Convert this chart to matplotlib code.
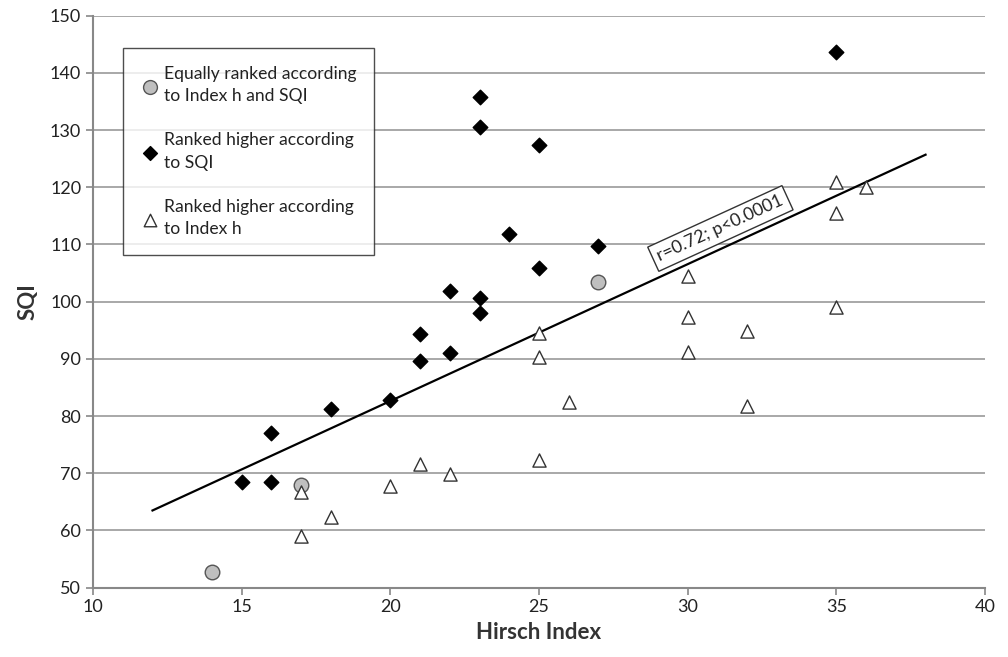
import matplotlib
matplotlib.use("Agg")
import matplotlib.pyplot as plt
import numpy as np

plt.rcParams['font.family'] = ['Lato', 'DejaVu Sans']

# Equally ranked
eq_x = [14, 17, 27]
eq_y = [52.7, 68.0, 103.4]

# Ranked higher according to SQI
sqi_x = [15, 16, 16, 18, 20, 21, 21, 22, 22, 23, 23, 23, 23, 24, 25, 25, 27, 35]
sqi_y = [68.5, 68.5, 77.0, 81.2, 82.9, 89.6, 94.4, 91.1, 101.9, 100.6, 98.1, 135.8, 130.6, 111.8, 127.4, 105.9, 109.8, 143.7]

# Ranked higher according to Index h
h_x = [17, 17, 18, 20, 21, 22, 25, 26, 25, 25, 30, 30, 30, 32, 32, 35, 35, 35, 36]
h_y = [66.7, 59.1, 62.3, 67.8, 71.7, 69.9, 72.3, 82.5, 90.3, 94.5, 91.2, 97.3, 104.5, 81.8, 94.8, 99.1, 121.0, 115.5, 120.0]

# Trend line endpoints
trend_x = [12, 38]
trend_y = [63.5, 125.7]

labels = ["Equally ranked according\nto Index h and SQI",
          "Ranked higher according\nto SQI",
          "Ranked higher according\nto Index h"]
annot = "r=0.72; p<0.0001"

fig = plt.figure(figsize=(10.08, 6.57), dpi=100)
ax = fig.add_axes([0.0923, 0.1055, 0.8849, 0.8706])

ax.set_xlim(10, 40)
ax.set_ylim(50, 150)
ax.set_xticks(np.arange(10, 41, 5))
ax.set_yticks(np.arange(50, 151, 10))
ax.grid(axis='y', color='#999999', linewidth=1.2)
ax.set_axisbelow(True)
for s in ['top', 'right']:
    ax.spines[s].set_visible(False)
for s in ['left', 'bottom']:
    ax.spines[s].set_color('#888888')
    ax.spines[s].set_linewidth(1.5)
ax.tick_params(axis='both', colors='#888888', labelcolor='#222222', labelsize=13, length=5, width=1.2)

ax.plot(trend_x, trend_y, color='black', linewidth=1.6, zorder=2)

h1 = ax.scatter(eq_x, eq_y, marker='o', s=110, facecolor='#bfbfbf', edgecolor='#555555', linewidth=1.0, zorder=3)
h2 = ax.scatter(sqi_x, sqi_y, marker='D', s=55, facecolor='black', edgecolor='black', zorder=3)
h3 = ax.scatter(h_x, h_y, marker='^', s=90, facecolor='white', edgecolor='#333333', linewidth=1.0, zorder=3)

ax.set_xlabel("Hirsch Index", fontsize=16, fontweight='bold', color='#333333', labelpad=5)
ax.set_ylabel("SQI", fontsize=16, fontweight='bold', color='#333333', labelpad=8)

ax.text(31.1, 112.8, annot, rotation=24.6, rotation_mode='anchor', ha='center', va='center',
        fontsize=12.8, color='#222222',
        bbox=dict(boxstyle='square,pad=0.3', facecolor='white', edgecolor='#333333', linewidth=1.0),
        zorder=4)

leg = ax.legend([h1, h2, h3], labels, loc='upper left', bbox_to_anchor=(0.034, 0.943),
                fontsize=12.6, frameon=True, fancybox=False, edgecolor='#222222',
                labelspacing=1.6, handletextpad=0.2, handlelength=1.1, borderpad=1.0,
                borderaxespad=0, markerscale=0.95)
leg.get_frame().set_linewidth(1.0)
for t in leg.get_texts():
    t.set_color('#222222')
    t.set_linespacing(1.5)

fig.savefig("out.png", dpi=100)
